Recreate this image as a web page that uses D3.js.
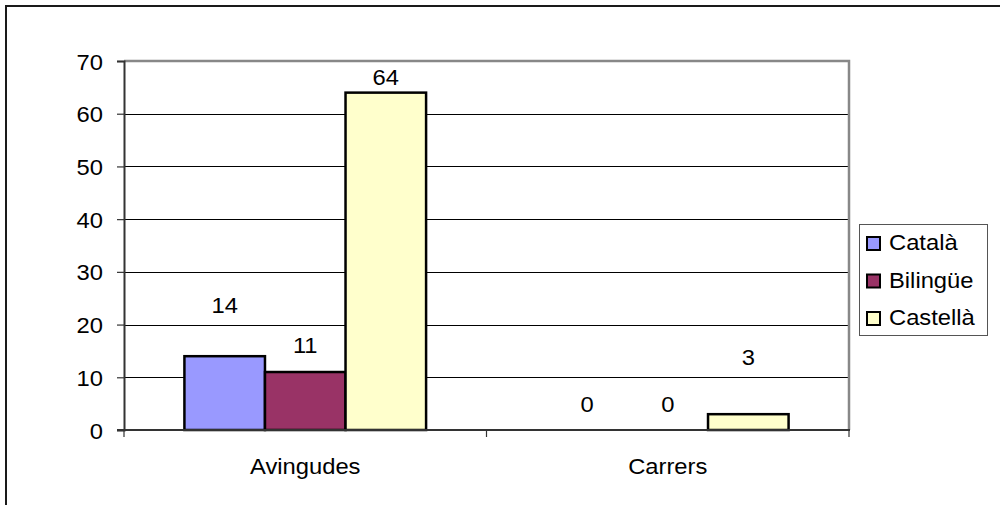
<!DOCTYPE html>
<html>
<head>
<meta charset="utf-8">
<script src="https://cdn.jsdelivr.net/npm/d3@7"></script>
<style>
  html, body { margin: 0; padding: 0; background: #fff; }
  svg { display: block; }
  text { font-family: "Liberation Sans", Arial, sans-serif; fill: #000; }
</style>
</head>
<body>
<svg id="chart" width="1000" height="505"></svg>
<script>
// Street-name counts by language
const categories = ["Avingudes", "Carrers"];
const seriesNames = ["Català", "Bilingüe", "Castellà"];
const catalaValues = [14, 0];
const bilingueValues = [11, 0];
const castellaValues = [64, 3];
const yTicks = [0, 10, 20, 30, 40, 50, 60, 70];

const seriesValues = [catalaValues, bilingueValues, castellaValues];
const colors = ["#9999FF", "#993366", "#FFFFCC"];
// how far each value label's baseline sits above its bar (px), per category then series
const labelLift = [[43, 19, 8], [18, 18, 49]];

const svg = d3.select("#chart");
const plot = { left: 124, right: 849, top: 61, bottom: 430 };
const sx = 1.08; // horizontal text stretch
const fontSize = 22;

function stretchedText(sel, x, y, anchor) {
  return sel.append("text")
    .attr("transform", `translate(${x},${y}) scale(${sx},1)`)
    .attr("text-anchor", anchor)
    .style("font-size", fontSize + "px");
}

// outer chart frame
svg.append("rect")
  .attr("x", 6).attr("y", 6).attr("width", 1100).attr("height", 600)
  .attr("fill", "none").attr("stroke", "#1a1a1a").attr("stroke-width", 2);

const y = d3.scaleLinear().domain([0, 70]).range([plot.bottom, plot.top]);
const x0 = d3.scaleBand().domain(categories).range([plot.left, plot.right]).padding(0);
const cw = x0.bandwidth();
const barW = cw / 4.5;
const x1 = d3.scaleBand().domain(seriesNames)
  .range([barW * 0.75, barW * 3.75]).padding(0);

// gridlines
svg.append("g")
  .selectAll("line")
  .data(yTicks.filter(t => t > 0 && t < 70))
  .join("line")
  .attr("x1", plot.left).attr("x2", plot.right)
  .attr("y1", d => Math.round(y(d)) + 0.5).attr("y2", d => Math.round(y(d)) + 0.5)
  .attr("stroke", "#000").attr("stroke-width", 1);

// plot-area border (top and right)
svg.append("path")
  .attr("d", `M${plot.left},${plot.top} H${plot.right} V${plot.bottom}`)
  .attr("fill", "none").attr("stroke", "#888").attr("stroke-width", 2.5);

// bars
const rows = [];
categories.forEach((c, ci) => {
  seriesNames.forEach((s, si) => {
    rows.push({ c, ci, s, si, v: seriesValues[si][ci] });
  });
});

svg.append("g")
  .selectAll("rect")
  .data(rows.filter(d => d.v > 0))
  .join("rect")
  .attr("x", d => x0(d.c) + x1(d.s))
  .attr("y", d => y(d.v))
  .attr("width", x1.bandwidth())
  .attr("height", d => y(0) - y(d.v))
  .attr("fill", d => colors[d.si])
  .attr("stroke", "#000").attr("stroke-width", 2.5);

// value labels
const labels = svg.append("g");
rows.forEach(d => {
  stretchedText(labels,
    x0(d.c) + x1(d.s) + x1.bandwidth() / 2,
    y(d.v) - labelLift[d.ci][d.si],
    "middle").text(d.v);
});

// y axis
const yAxis = d3.axisLeft(y).tickValues(yTicks).tickSize(7).tickFormat("");
const gy = svg.append("g").attr("transform", `translate(${plot.left},0)`).call(yAxis);
gy.select(".domain").attr("stroke", "#333").attr("stroke-width", 2);
gy.selectAll(".tick line").attr("stroke", "#333").attr("stroke-width", 1.2);
gy.selectAll(".tick").each(function (d) {
  stretchedText(d3.select(this), -21, 8, "end").text(d);
});

// x axis
svg.append("line")
  .attr("x1", plot.left - 7).attr("x2", plot.right + 1)
  .attr("y1", plot.bottom).attr("y2", plot.bottom)
  .attr("stroke", "#333").attr("stroke-width", 2);
const bounds = [plot.left, plot.left + cw, plot.right];
svg.append("g").selectAll("line").data(bounds).join("line")
  .attr("x1", d => d).attr("x2", d => d)
  .attr("y1", plot.bottom).attr("y2", plot.bottom + 7)
  .attr("stroke", "#333").attr("stroke-width", 1.2);
const gx = svg.append("g");
categories.forEach(c => {
  stretchedText(gx, x0(c) + cw / 2, 474, "middle").text(c);
});

// legend
const lg = svg.append("g");
lg.append("rect")
  .attr("x", 859.5).attr("y", 224.5).attr("width", 128).attr("height", 111)
  .attr("fill", "#fff").attr("stroke", "#555").attr("stroke-width", 1);
seriesNames.forEach((s, i) => {
  const base = 250 + i * 37.5;
  lg.append("rect")
    .attr("x", 867).attr("y", base - 13).attr("width", 13).attr("height", 13)
    .attr("fill", colors[i]).attr("stroke", "#000").attr("stroke-width", 2);
  stretchedText(lg, 889, base, "start").text(s);
});
</script>
</body>
</html>
